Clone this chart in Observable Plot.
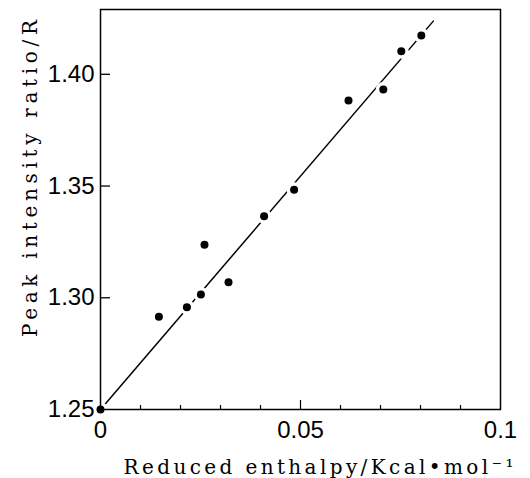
<!DOCTYPE html>
<html><head><meta charset="utf-8">
<script src="https://cdn.jsdelivr.net/npm/d3@7"></script>
<script src="https://cdn.jsdelivr.net/npm/@observablehq/plot@0.6"></script>
<style>
body{margin:0;background:#fff;}
</style></head><body><div id="chart"></div>
<script>
// data
const enthalpy = [0, 0.0146, 0.0216, 0.0251, 0.0260, 0.0320, 0.0409, 0.0484, 0.0620, 0.0707, 0.0752, 0.0802];
const ratio    = [1.25, 1.2915, 1.2958, 1.3015, 1.3237, 1.3070, 1.3365, 1.3483, 1.3883, 1.3932, 1.4103, 1.4174];
const fitX = [0, 0.0832];
const fitY = [1.25, 1.4238];
const yTicks = [1.25, 1.30, 1.35, 1.40];
const yInnerTicks = [1.30, 1.35, 1.40];
const xTicks = [0, 0.05, 0.1];
const xTickLabels = ["0", "0.05", "0.1"];
const xMajorInner = [0.05];
const xMinorTicks = [0.01, 0.02, 0.03, 0.04, 0.06, 0.07, 0.08, 0.09];
const xLabel = ["Reduced enthalpy/Kcal•mol⁻¹"];
const yLabel = ["Peak intensity ratio/R"];

const points = enthalpy.map((x, i) => ({x, y: ratio[i]}));
const fit = fitX.map((x, i) => ({x, y: fitY[i]}));

const W = 530, H = 478, ML = 100, MR = 30, MT = 9, MB = 69;
const PW = W - ML - MR, PH = H - MT - MB;
const labelFont = "DejaVu Serif";
const tickFont = "Liberation Sans";

const chart = Plot.plot({
  width: W, height: H,
  marginLeft: ML, marginRight: MR, marginTop: MT, marginBottom: MB,
  style: {background: "#fff", color: "#000"},
  x: {domain: [0, 0.1]},
  y: {domain: [1.25, 1.429]},
  marks: [
    Plot.line(fit, {x: "x", y: "y", stroke: "#000", strokeWidth: 1.5}),
    Plot.dot(points, {x: "x", y: "y", r: 7.5, fill: "#fff", stroke: "none"}),
    Plot.frame({stroke: "#000", strokeWidth: 1.5}),
    Plot.tickY(yInnerTicks, {y: d => d, insetRight: PW - 10, stroke: "#000", strokeWidth: 1.3}),
    Plot.tickX(xMinorTicks, {x: d => d, insetTop: PH - 4, stroke: "#000", strokeWidth: 1.2}),
    Plot.tickX(xMajorInner, {x: d => d, insetTop: PH - 9, stroke: "#000", strokeWidth: 1.2}),
    Plot.axisY(yTicks, {tickSize: 0, tickPadding: 6, tickFormat: d => d.toFixed(2), fontSize: 24, fontFamily: tickFont, label: null}),
    Plot.axisX(xTicks, {tickSize: 0, tickPadding: 11, tickFormat: (d, i) => xTickLabels[i], fontSize: 24, fontFamily: tickFont, label: null}),
    Plot.dot(points, {x: "x", y: "y", r: 4, fill: "#000", stroke: "none"}),
    Plot.text(yLabel, {text: d => d, frameAnchor: "left", textAnchor: "middle", lineAnchor: "middle", dx: -70, dy: -31, rotate: -90, fontSize: 20, fontFamily: labelFont, fill: "#000"}),
    Plot.text(xLabel, {text: d => d, frameAnchor: "bottom", textAnchor: "middle", lineAnchor: "middle", dx: 18, dy: 58, fontSize: 20, fontFamily: labelFont, fill: "#000"})
  ]
});
document.getElementById("chart").appendChild(chart);
for (const t of chart.querySelectorAll("text")) {
  if (t.textContent === yLabel[0]) { t.setAttribute("textLength", "317"); t.setAttribute("lengthAdjust", "spacing"); }
  if (t.textContent === xLabel[0]) { t.setAttribute("textLength", "390"); t.setAttribute("lengthAdjust", "spacing"); }
}
</script></body></html>
